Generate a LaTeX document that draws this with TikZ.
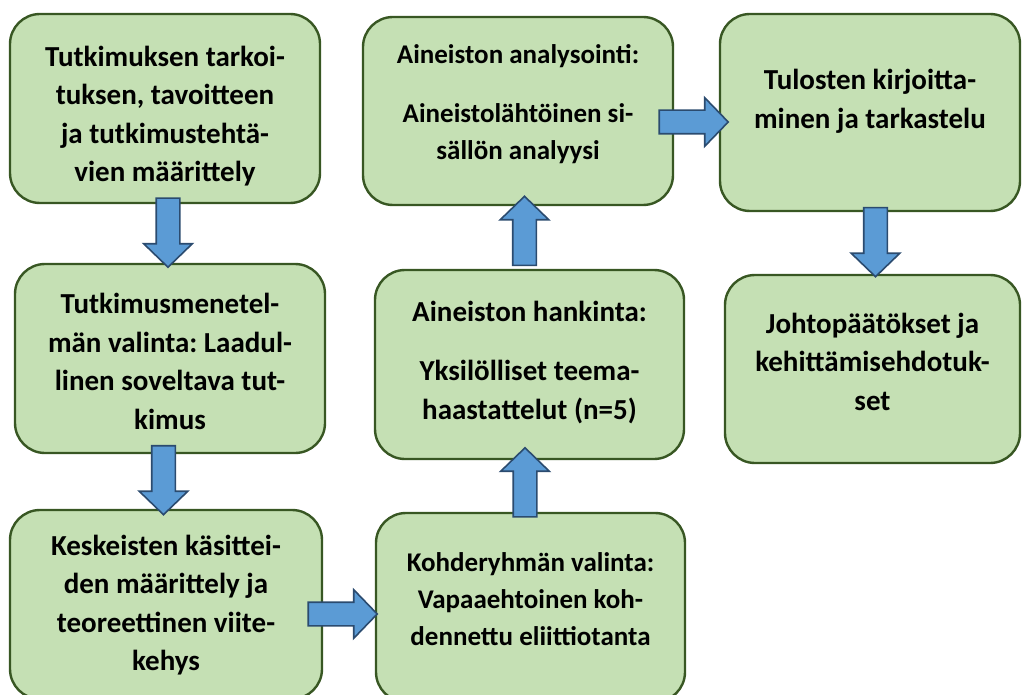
\documentclass[tikz,border=0pt]{standalone}
\usepackage{fontspec}
\setmainfont{Carlito}
\frenchspacing
\usetikzlibrary{positioning,shapes.arrows}
\definecolor{lehti}{HTML}{C5E0B4}
\definecolor{reuna}{HTML}{385723}
\definecolor{nuoli}{HTML}{5B9BD5}
\definecolor{nuolireuna}{HTML}{2B4B6F}
\begin{document}
\begin{tikzpicture}[x=1pt,y=-1pt,
 laatikko/.style={draw=reuna,fill=lehti,line width=2.4pt,rounded corners=30pt,inner sep=0pt,minimum width=310pt,minimum height=189pt},
 teksti/.style={align=center,anchor=base,inner sep=0pt,font=\bfseries\fontsize{29}{38.5}\selectfont},
 pieni/.style={font=\bfseries\fontsize{27}{37}\selectfont},
 nuoli/.style={single arrow,draw=nuolireuna,fill=nuoli,line width=1.6pt,inner xsep=0pt,inner ysep=11pt,minimum height=69pt,single arrow head extend=12.5pt,single arrow tip angle=92}]
\useasboundingbox (0,0) rectangle (1022,695);
\clip (0,0) rectangle (1022,695);
% laatikot
\node[laatikko] (tarkoitus) at (165,108.5) {};
\node[laatikko] (menetelma) at (170,358.5) {};
\node[laatikko,minimum width=312pt] (kasitteet) at (166,604.5) {};
\node[laatikko,minimum width=309pt] (kohderyhma) at (530.5,607.5) {};
\node[laatikko,minimum width=309pt] (hankinta) at (529.5,364.5) {};
\node[laatikko,minimum height=188pt] (analyysi) at (518,111) {};
\node[laatikko,minimum width=300pt,minimum height=197pt] (tulokset) at (870,112.5) {};
\node[laatikko,minimum width=295pt,minimum height=188pt] (johtopaatokset) at (872.5,369) {};
% tekstit (viimeisen rivin perusviiva)
\node[teksti] (tarkoitus-t) at (165,182) {Tutkimuksen tarkoi-\\tuksen, tavoitteen\\ja tutkimustehtä-\\vien määrittely};
\node[teksti] (menetelma-t) at (170,429) {Tutkimusmenetel-\\män valinta: Laadul-\\linen soveltava tut-\\kimus};
\node[teksti] (kasitteet-t) at (166,670.5) {Keskeisten käsittei-\\den määrittely ja\\teoreettinen viite-\\kehys};
\node[teksti,pieni] (kohderyhma-t) at (530.5,645) {Kohderyhmän valinta:\\Vapaaehtoinen koh-\\dennettu eliittiotanta};
\node[teksti] (hankinta-t) at (529.5,419) {Aineiston hankinta:\\[21pt]Yksilölliset teema-\\haastattelut (n=5)};
\node[teksti,pieni] (analyysi-t) at (518,160) {Aineiston analysointi:\\[22pt]Aineistolähtöinen si-\\sällön analyysi};
\node[teksti] (tulokset-t) at (870,128.5) {Tulosten kirjoitta-\\minen ja tarkastelu};
\node[teksti] (johtopaatokset-t) at (872.5,410) {Johtopäätökset ja\\kehittämisehdotuk-\\set};
% nuolet
\node[nuoli,rotate=-90] (n1) at (168,227) {};
\node[nuoli,rotate=-90] (n2) at (163.5,474.5) {};
\node[nuoli] (n3) at (337,614) {};
\node[nuoli,rotate=90] (n4) at (525,488) {};
\node[nuoli,rotate=90] (n5) at (524.5,236.5) {};
\node[nuoli] (n6) at (688,122) {};
\node[nuoli,rotate=-90] (n7) at (875.5,236.5) {};
\end{tikzpicture}
\end{document}
